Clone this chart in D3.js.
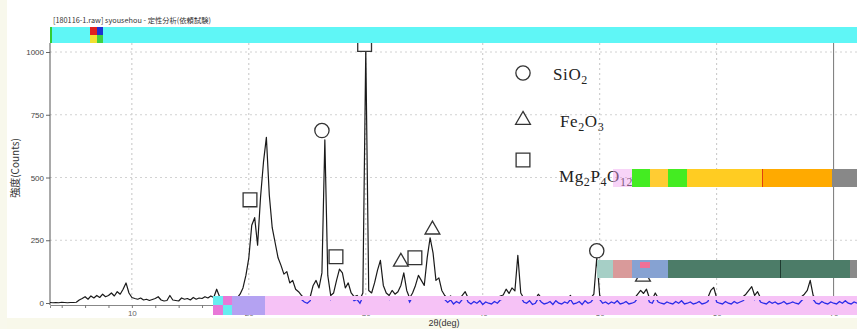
<!DOCTYPE html>
<html>
<head>
<meta charset="utf-8">
<script src="https://cdn.jsdelivr.net/npm/d3@7"></script>
<style>
  body { margin: 0; background: #fff; }
  svg { display: block; }
</style>
</head>
<body>
<svg id="chart" width="857" height="329"></svg>
<script>
// XRD pattern, step scan from 3 deg, 0.25 deg per point
var angleStart = 3, angleStep = 0.25;
var counts = [
  2,1,2,1,3,2,1,2,2,3,
  12,18,25,15,28,20,30,22,35,25,30,40,28,45,
  35,55,80,40,
  22,18,15,20,12,15,10,14,
  18,25,12,8,10,30,12,10,
  8,20,15,18,12,22,15,20,
  18,25,20,28,22,55,25,15,
  20,12,25,15,20,35,60,110,
  180,310,340,230,420,560,660,430,300,240,180,150,115,125,80,90,55,45,30,20,
  15,25,70,90,60,120,
  650,110,30,40,
  90,135,120,60,80,40,
  25,30,15,40,1010,50,40,80,
  130,170,70,40,30,50,35,45,
  70,120,50,20,
  40,70,110,90,70,180,260,200,90,100,50,30,
  18,28,12,22,15,30,45,20,12,22,15,25,10,20,15,12,22,15,28,32,55,38,60,48,190,40,20,15,
  25,10,15,35,20,12,15,22,10,25,15,12,20,15,30,12,15,22,10,25,15,20,35,180,
  30,15,20,12,20,15,25,12,15,22,12,15,20,35,50,38,55,20,15,40,
  20,15,12,20,15,12,22,15,25,12,15,20,12,15,22,12,15,22,50,62,20,15,12,22,
  15,12,22,15,20,25,35,50,65,30,45,20,15,12,22,15,
  20,12,15,22,12,15,20,15,12,25,35,50,90,30,15,12,22,15,12,20,15,12,22,15,25,15,12,20,15
];

var yTicks = [0, 250, 500, 750, 1000];
var xLabels = [10, 20, 30, 40, 50, 60, 70];

// phase identification marks
var markAngles = [20.1, 26.25, 27.45, 29.9, 33.0, 34.2, 35.7, 49.75, 53.7];
var markCounts = [411, 687, 184, 1030, 164, 180, 292, 208, 104];
var markPhases = ["Mg", "Si", "Mg", "Mg", "Fe", "Mg", "Fe", "Si", "Fe"];

var phaseKeys = ["Si", "Fe", "Mg"];
var phaseNames = [
  [["SiO", "2"]],
  [["Fe", "2"], ["O", "3"]],
  [["Mg", "2"], ["P", "4"], ["O", "12"]]
];

var title = "[180116-1.raw] syousehou - 定性分析(依頼試験)";
var yTitle = "強度(Counts)";
var xTitle = "2θ(deg)";

var svg = d3.select("#chart");
var x = d3.scaleLinear().domain([3, 72]).range([50, 857]);
var y = d3.scaleLinear().domain([0, 1000]).range([303, 52]);

var shapeOf = { Si: d3.symbolCircle, Fe: d3.symbolTriangle, Mg: d3.symbolSquare };
var sizeOf = { Si: 160, Fe: 95, Mg: 190 };

// slightly yellow paper edges
svg.append("rect").attr("x", 0).attr("y", 318).attr("width", 857).attr("height", 11).attr("fill", "#f8f8ea");
svg.append("rect").attr("x", 0).attr("y", 0).attr("width", 7).attr("height", 329).attr("fill", "#f8f8ec");

// dotted grid
svg.append("g").selectAll("line")
  .data(xLabels.slice(0, -1))
  .enter().append("line")
  .attr("x1", function (d) { return x(d); })
  .attr("x2", function (d) { return x(d); })
  .attr("y1", 43).attr("y2", 303)
  .attr("stroke", "#c4c4c4").attr("stroke-dasharray", "2,3");

svg.append("g").selectAll("line")
  .data(yTicks.slice(1))
  .enter().append("line")
  .attr("x1", 50).attr("x2", 857)
  .attr("y1", function (d) { return y(d); })
  .attr("y2", function (d) { return y(d); })
  .attr("stroke", "#d2d2d2").attr("stroke-dasharray", "2,3");

// frame line at 70 deg
svg.append("line")
  .attr("x1", x(70)).attr("x2", x(70)).attr("y1", 43).attr("y2", 305)
  .attr("stroke", "#777");

// y axis
var yAxis = svg.append("g")
  .attr("transform", "translate(50,0)")
  .call(d3.axisLeft(y).tickValues(yTicks).tickFormat(d3.format("d")).tickSize(4).tickPadding(2));
yAxis.select(".domain").remove();
yAxis.selectAll("line").attr("stroke", "#666");
yAxis.selectAll("text").attr("fill", "#444").style("font", "8px 'Liberation Sans', Arial, sans-serif");
svg.append("line").attr("x1", 50).attr("x2", 50).attr("y1", 43).attr("y2", 305).attr("stroke", "#555");

// x axis
var xAxis = svg.append("g")
  .attr("transform", "translate(0,305)")
  .call(d3.axisBottom(x)
    .tickValues(d3.range(4, 73, 2))
    .tickSize(3)
    .tickPadding(2)
    .tickFormat(function (d) { return d % 10 === 0 ? d : ""; }));
xAxis.select(".domain").attr("stroke", "#888");
xAxis.selectAll("line").attr("stroke", "#777");
xAxis.selectAll("text").attr("fill", "#666").style("font", "8px 'Liberation Sans', Arial, sans-serif");

// pattern
var line = d3.line()
  .x(function (d, i) { return x(angleStart + i * angleStep); })
  .y(function (d) { return y(d); });

svg.append("path")
  .datum(counts)
  .attr("d", line)
  .attr("fill", "none")
  .attr("stroke", "#1a1a1a")
  .attr("stroke-width", 1.2)
  .attr("stroke-linejoin", "round");

// peak marks
svg.append("g").selectAll("path")
  .data(markAngles)
  .enter().append("path")
  .attr("transform", function (d, i) { return "translate(" + x(d) + "," + y(markCounts[i]) + ")"; })
  .attr("d", function (d, i) {
    return d3.symbol().type(shapeOf[markPhases[i]]).size(sizeOf[markPhases[i]])();
  })
  .attr("fill", "#fff")
  .attr("stroke", "#333")
  .attr("stroke-width", 1.3);

// legend
var legendSymbolY = [73, 120, 160];
var legendTextY = [80, 127, 182];
var legendTextX = [553, 560, 559];
var legend = svg.append("g");
legend.selectAll("path")
  .data(phaseKeys)
  .enter().append("path")
  .attr("transform", function (d, i) { return "translate(523," + legendSymbolY[i] + ")"; })
  .attr("d", function (d) { return d3.symbol().type(shapeOf[d]).size(sizeOf[d])(); })
  .attr("fill", "#fff")
  .attr("stroke", "#333")
  .attr("stroke-width", 1.3);

legend.selectAll("text")
  .data(phaseNames)
  .enter().append("text")
  .attr("x", function (d, i) { return legendTextX[i]; })
  .attr("y", function (d, i) { return legendTextY[i]; })
  .attr("fill", "#222")
  .style("font", "17px 'Liberation Serif', 'DejaVu Serif', serif")
  .style("letter-spacing", "0.6px")
  .each(function (parts) {
    var t = d3.select(this);
    parts.forEach(function (p, k) {
      t.append("tspan").attr("dy", k === 0 ? 0 : -4).text(p[0]);
      t.append("tspan").attr("dy", 4).style("font-size", "12px").text(p[1]);
    });
  });

// scan artefacts in the reference picture
function block(x0, y0, w, h, c) {
  svg.append("rect").attr("x", x0).attr("y", y0).attr("width", w).attr("height", h).attr("fill", c);
}

// pink band at the base with the baseline showing through in blue
block(213, 296, 644, 19, "#f6c2f6");
block(232, 296, 33, 19, "#b4a2f2");
block(213, 296, 10, 9, "#66eef0");
block(223, 296, 9, 9, "#e878d8");
block(213, 305, 10, 10, "#e878d8");
block(223, 305, 9, 10, "#66eef0");

svg.append("clipPath").attr("id", "bandClip")
  .append("rect").attr("x", 240).attr("y", 296).attr("width", 617).attr("height", 19);
svg.append("path")
  .datum(counts)
  .attr("d", line)
  .attr("transform", "translate(0,4)")
  .attr("clip-path", "url(#bandClip)")
  .attr("fill", "none")
  .attr("stroke", "#2b2be8")
  .attr("stroke-width", 1.3);

// green band
block(597, 260, 16, 18, "#a6cfc6");
block(613, 260, 19, 18, "#d99a9a");
block(632, 260, 36, 18, "#86a2d2");
block(640, 262, 10, 6, "#f07098");
block(668, 260, 182, 18, "#4c7c68");
block(850, 260, 7, 18, "#8a8a8a");
block(780, 260, 1, 18, "#1f3a30");

// orange bar over the legend
block(613, 169, 19, 18, "rgba(240,160,240,0.45)");
block(632, 169, 18, 18, "#44ec22");
block(650, 169, 18, 18, "#ffcc33");
block(668, 169, 19, 18, "#44ec22");
block(687, 169, 75, 18, "#ffcc22");
block(762, 169, 70, 18, "#ffaa00");
block(762, 169, 1, 18, "#e04010");
block(832, 169, 25, 18, "#888888");

// cyan band at the top
block(50, 27, 807, 16, "#5ff6f6");
block(50, 27, 2, 16, "#33cc33");
block(90, 27, 7, 8, "#e02020");
block(97, 27, 6, 8, "#2030d0");
block(90, 35, 7, 8, "#f0e030");
block(97, 35, 6, 8, "#40d040");

// titles
svg.append("text")
  .attr("x", 53).attr("y", 23)
  .attr("fill", "#333")
  .style("font", "7.3px 'Noto Sans CJK JP', 'Liberation Sans', sans-serif")
  .text(title);

svg.append("text")
  .attr("transform", "translate(19,168) rotate(-90)")
  .attr("text-anchor", "middle")
  .attr("fill", "#333")
  .style("font", "10px 'Noto Sans CJK JP', 'Liberation Sans', sans-serif")
  .text(yTitle);

svg.append("text")
  .attr("x", 444).attr("y", 326)
  .attr("text-anchor", "middle")
  .attr("fill", "#333")
  .style("font", "9px 'Liberation Sans', Arial, sans-serif")
  .text(xTitle);
</script>
</body>
</html>
